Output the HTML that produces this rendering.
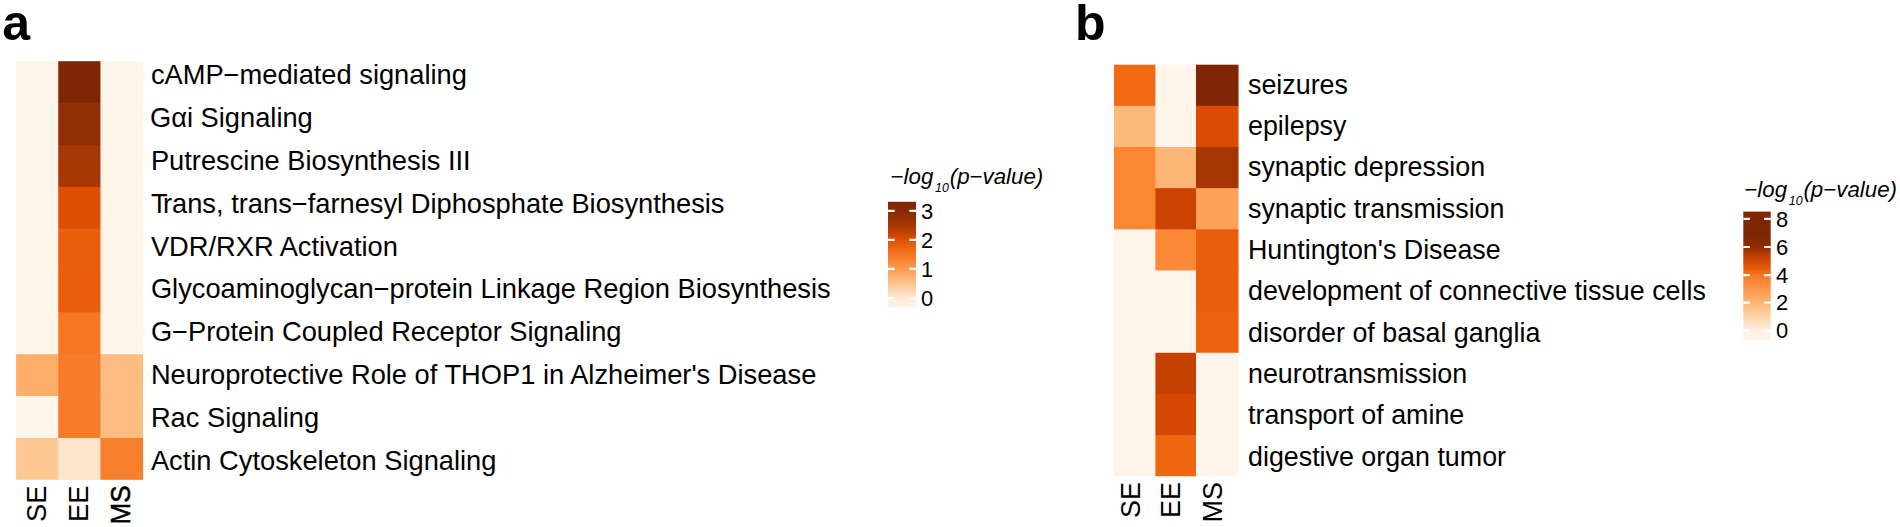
<!DOCTYPE html>
<html lang="en">
<head>
<meta charset="utf-8">
<title>Heatmaps</title>
<style>
html,body{margin:0;padding:0;background:#fff;}
body{width:1900px;height:527px;overflow:hidden;}
svg{display:block;}
text{font-family:"Liberation Sans",Arial,Helvetica,sans-serif;fill:#000;}
.ttl{font-weight:bold;font-size:50px;}
.it{font-style:italic;}
</style>
</head>
<body>
<svg width="1900" height="527" viewBox="0 0 1900 527">
<rect x="0" y="0" width="1900" height="527" fill="#ffffff"/>
<text class="ttl" x="2.3" y="39.5">a</text>
<text class="ttl" x="1075" y="39.5">b</text>
<g id="heat-a" shape-rendering="auto">
<rect x="16.10" y="61.20" width="126.95" height="418.60" fill="#FFF5EB"/>
<rect x="16.10" y="61.20" width="42.85" height="42.56" fill="#FFF5EB"/>
<rect x="58.25" y="61.20" width="42.90" height="42.56" fill="#7F2704"/>
<rect x="100.45" y="61.20" width="42.60" height="42.56" fill="#FFF5EB"/>
<rect x="16.10" y="103.06" width="42.85" height="42.56" fill="#FFF5EB"/>
<rect x="58.25" y="103.06" width="42.90" height="42.56" fill="#922E04"/>
<rect x="100.45" y="103.06" width="42.60" height="42.56" fill="#FFF5EB"/>
<rect x="16.10" y="144.92" width="42.85" height="42.56" fill="#FFF5EB"/>
<rect x="58.25" y="144.92" width="42.90" height="42.56" fill="#A63603"/>
<rect x="100.45" y="144.92" width="42.60" height="42.56" fill="#FFF5EB"/>
<rect x="16.10" y="186.78" width="42.85" height="42.56" fill="#FFF5EB"/>
<rect x="58.25" y="186.78" width="42.90" height="42.56" fill="#DE4F05"/>
<rect x="100.45" y="186.78" width="42.60" height="42.56" fill="#FFF5EB"/>
<rect x="16.10" y="228.64" width="42.85" height="42.56" fill="#FFF5EB"/>
<rect x="58.25" y="228.64" width="42.90" height="42.56" fill="#EA5F0E"/>
<rect x="100.45" y="228.64" width="42.60" height="42.56" fill="#FFF5EB"/>
<rect x="16.10" y="270.50" width="42.85" height="42.56" fill="#FFF5EB"/>
<rect x="58.25" y="270.50" width="42.90" height="42.56" fill="#E95D0D"/>
<rect x="100.45" y="270.50" width="42.60" height="42.56" fill="#FFF5EB"/>
<rect x="16.10" y="312.36" width="42.85" height="42.56" fill="#FFF5EB"/>
<rect x="58.25" y="312.36" width="42.90" height="42.56" fill="#F67723"/>
<rect x="100.45" y="312.36" width="42.60" height="42.56" fill="#FFF5EB"/>
<rect x="16.10" y="354.22" width="42.85" height="42.56" fill="#FDAE6B"/>
<rect x="58.25" y="354.22" width="42.90" height="42.56" fill="#F77B28"/>
<rect x="100.45" y="354.22" width="42.60" height="42.56" fill="#FDBC81"/>
<rect x="16.10" y="396.08" width="42.85" height="42.56" fill="#FFF5EB"/>
<rect x="58.25" y="396.08" width="42.90" height="42.56" fill="#F77B28"/>
<rect x="100.45" y="396.08" width="42.60" height="42.56" fill="#FDBC81"/>
<rect x="16.10" y="437.94" width="42.85" height="41.86" fill="#FDC894"/>
<rect x="58.25" y="437.94" width="42.90" height="41.86" fill="#FEE4CA"/>
<rect x="100.45" y="437.94" width="42.60" height="41.86" fill="#F87F2C"/>
</g>
<g id="rows-a" font-size="27.28">
<text x="150.9" y="84.40">cAMP−mediated signaling</text>
<text x="150" y="127.19">Gαi Signaling</text>
<text x="150.9" y="169.98">Putrescine Biosynthesis III</text>
<text x="150.9" y="212.77">T<tspan dx="-3.6">rans, trans−farnesyl Diphosphate Biosynthesis</tspan></text>
<text x="150.9" y="255.56">VDR/RXR Activation</text>
<text x="150.9" y="298.35">Glycoaminoglycan−protein Linkage Region Biosynthesis</text>
<text x="150.9" y="341.14">G−Protein Coupled Receptor Signaling</text>
<text x="150.9" y="383.93">Neuroprotective Role of THOP1 in Alzheimer's Disease</text>
<text x="150.9" y="426.72">Rac Signaling</text>
<text x="150.9" y="469.51">Actin Cytoskeleton Signaling</text>
</g>
<g id="cols-a" font-size="27.35" text-anchor="end">
<text transform="translate(46.07,485.40) rotate(-90)" x="0" y="0">SE</text>
<text transform="translate(88.25,485.40) rotate(-90)" x="0" y="0">EE</text>
<text transform="translate(129.80,485.40) rotate(-90) scale(0.955,1)" x="0" y="0" stroke="#000" stroke-width="0.5">MS</text>
</g>
<g id="heat-b" shape-rendering="auto">
<rect x="1114.00" y="64.70" width="124.50" height="411.50" fill="#FFF5EB"/>
<rect x="1114.00" y="64.70" width="42.10" height="41.85" fill="#F16913"/>
<rect x="1155.40" y="64.70" width="41.30" height="41.85" fill="#FFF5EB"/>
<rect x="1196.00" y="64.70" width="42.50" height="41.85" fill="#7F2704"/>
<rect x="1114.00" y="105.85" width="42.10" height="41.85" fill="#FDB87C"/>
<rect x="1155.40" y="105.85" width="41.30" height="41.85" fill="#FFF5EB"/>
<rect x="1196.00" y="105.85" width="42.50" height="41.85" fill="#DB4B03"/>
<rect x="1114.00" y="147.00" width="42.10" height="41.85" fill="#FB8634"/>
<rect x="1155.40" y="147.00" width="41.30" height="41.85" fill="#FDB576"/>
<rect x="1196.00" y="147.00" width="42.50" height="41.85" fill="#A63603"/>
<rect x="1114.00" y="188.15" width="42.10" height="41.85" fill="#FB8634"/>
<rect x="1155.40" y="188.15" width="41.30" height="41.85" fill="#CA4302"/>
<rect x="1196.00" y="188.15" width="42.50" height="41.85" fill="#FDA158"/>
<rect x="1114.00" y="229.30" width="42.10" height="41.85" fill="#FFF5EB"/>
<rect x="1155.40" y="229.30" width="41.30" height="41.85" fill="#FC8938"/>
<rect x="1196.00" y="229.30" width="42.50" height="41.85" fill="#EA5F0E"/>
<rect x="1114.00" y="270.45" width="42.10" height="41.85" fill="#FFF5EB"/>
<rect x="1155.40" y="270.45" width="41.30" height="41.85" fill="#FFF5EB"/>
<rect x="1196.00" y="270.45" width="42.50" height="41.85" fill="#EA5F0E"/>
<rect x="1114.00" y="311.60" width="42.10" height="41.85" fill="#FFF5EB"/>
<rect x="1155.40" y="311.60" width="41.30" height="41.85" fill="#FFF5EB"/>
<rect x="1196.00" y="311.60" width="42.50" height="41.85" fill="#EC620F"/>
<rect x="1114.00" y="352.75" width="42.10" height="41.85" fill="#FFF5EB"/>
<rect x="1155.40" y="352.75" width="41.30" height="41.85" fill="#C54102"/>
<rect x="1196.00" y="352.75" width="42.50" height="41.85" fill="#FFF5EB"/>
<rect x="1114.00" y="393.90" width="42.10" height="41.85" fill="#FFF5EB"/>
<rect x="1155.40" y="393.90" width="41.30" height="41.85" fill="#D44601"/>
<rect x="1196.00" y="393.90" width="42.50" height="41.85" fill="#FFF5EB"/>
<rect x="1114.00" y="435.05" width="42.10" height="41.15" fill="#FFF5EB"/>
<rect x="1155.40" y="435.05" width="41.30" height="41.15" fill="#EF6611"/>
<rect x="1196.00" y="435.05" width="42.50" height="41.15" fill="#FFF5EB"/>
</g>
<g id="rows-b" font-size="26.84">
<text x="1248" y="93.55">seizures</text>
<text x="1248" y="134.91">epilepsy</text>
<text x="1248" y="176.27">synaptic depression</text>
<text x="1248" y="217.63">synaptic transmission</text>
<text x="1248" y="258.99">Huntington's Disease</text>
<text x="1248" y="300.35">development of connective tissue cells</text>
<text x="1248" y="341.71">disorder of basal ganglia</text>
<text x="1248" y="383.07">neurotransmission</text>
<text x="1248" y="424.43">transport of amine</text>
<text x="1248" y="465.79">digestive organ tumor</text>
</g>
<g id="cols-b" font-size="27" text-anchor="end">
<text transform="translate(1139.90,481.90) rotate(-90)" x="0" y="0">SE</text>
<text transform="translate(1179.80,481.90) rotate(-90)" x="0" y="0">EE</text>
<text transform="translate(1222.05,481.90) rotate(-90)" x="0" y="0">MS</text>
</g>
<defs><linearGradient id="grad-a" x1="0" y1="0" x2="0" y2="1">
<stop offset="0.0000" stop-color="#7F2704"/>
<stop offset="0.0861" stop-color="#872A04"/>
<stop offset="0.2195" stop-color="#A63603"/>
<stop offset="0.3605" stop-color="#DE4F05"/>
<stop offset="0.4939" stop-color="#F5741F"/>
<stop offset="0.6358" stop-color="#FD9C51"/>
<stop offset="0.7777" stop-color="#FDC48F"/>
<stop offset="0.9158" stop-color="#FEEAD7"/>
<stop offset="1.0000" stop-color="#FFF5EB"/>
</linearGradient></defs>
<rect x="888.00" y="201.80" width="28.00" height="105.70" fill="url(#grad-a)"/>
<path d="M888.00 210.90h6.60M909.40 210.90h6.60" stroke="#fff" stroke-width="2.2" fill="none"/>
<text x="921" y="218.74" font-size="21.9">3</text>
<path d="M888.00 239.80h6.60M909.40 239.80h6.60" stroke="#fff" stroke-width="2.2" fill="none"/>
<text x="921" y="247.64" font-size="21.9">2</text>
<path d="M888.00 268.90h6.60M909.40 268.90h6.60" stroke="#fff" stroke-width="2.2" fill="none"/>
<text x="921" y="276.74" font-size="21.9">1</text>
<path d="M888.00 298.20h6.60M909.40 298.20h6.60" stroke="#fff" stroke-width="2.2" fill="none"/>
<text x="921" y="306.04" font-size="21.9">0</text>
<text class="it" x="890.6" y="183.5" font-size="22.3">−log<tspan font-size="12.4" dx="1.7" dy="8">10</tspan><tspan dx="0.85" dy="-8">(p−value)</tspan></text>
<defs><linearGradient id="grad-b" x1="0" y1="0" x2="0" y2="1">
<stop offset="0.0000" stop-color="#7F2704"/>
<stop offset="0.1978" stop-color="#7F2704"/>
<stop offset="0.2757" stop-color="#8F2D04"/>
<stop offset="0.3614" stop-color="#CA4302"/>
<stop offset="0.4455" stop-color="#E75C0C"/>
<stop offset="0.4969" stop-color="#F67723"/>
<stop offset="0.6106" stop-color="#FD9A4F"/>
<stop offset="0.7142" stop-color="#FDB576"/>
<stop offset="0.8178" stop-color="#FDD4AB"/>
<stop offset="0.9221" stop-color="#FFF0E1"/>
<stop offset="1.0000" stop-color="#FFF5EB"/>
</linearGradient></defs>
<rect x="1743.30" y="211.60" width="27.40" height="128.40" fill="url(#grad-b)"/>
<path d="M1743.30 218.80h6.60M1764.10 218.80h6.60" stroke="#fff" stroke-width="2.2" fill="none"/>
<text x="1776" y="226.64" font-size="21.9">8</text>
<path d="M1743.30 247.00h6.60M1764.10 247.00h6.60" stroke="#fff" stroke-width="2.2" fill="none"/>
<text x="1776" y="254.84" font-size="21.9">6</text>
<path d="M1743.30 275.20h6.60M1764.10 275.20h6.60" stroke="#fff" stroke-width="2.2" fill="none"/>
<text x="1776" y="283.04" font-size="21.9">4</text>
<path d="M1743.30 302.60h6.60M1764.10 302.60h6.60" stroke="#fff" stroke-width="2.2" fill="none"/>
<text x="1776" y="310.44" font-size="21.9">2</text>
<path d="M1743.30 330.60h6.60M1764.10 330.60h6.60" stroke="#fff" stroke-width="2.2" fill="none"/>
<text x="1776" y="338.44" font-size="21.9">0</text>
<text class="it" x="1744.3" y="197.3" font-size="22.3">−log<tspan font-size="12.4" dx="1.7" dy="8">10</tspan><tspan dx="0.85" dy="-8">(p−value)</tspan></text>
</svg>
</body>
</html>
